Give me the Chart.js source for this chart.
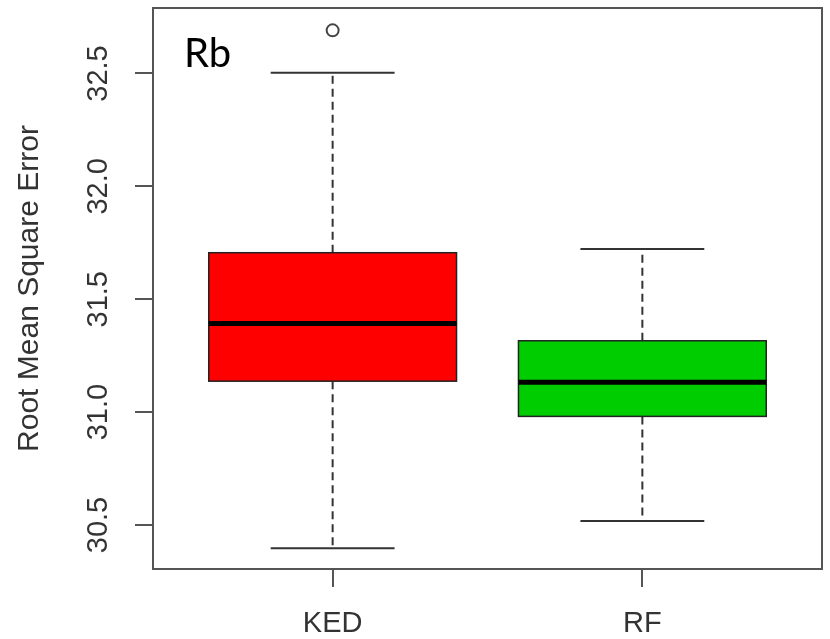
<!DOCTYPE html>
<html>
<head>
<meta charset="utf-8">
<script src="https://cdn.jsdelivr.net/npm/chart.js@4/dist/chart.umd.min.js"></script>
<style>
  html, body { margin: 0; padding: 0; background: #fff; }
</style>
</head>
<body>
<canvas id="rmseChart" width="830" height="639"></canvas>
<script>
// Data
const categories = ["KED", "RF"];
const whiskerLow = [30.397, 30.518];
const lowerQuartile = [31.137, 30.981];
const medians = [31.393, 31.132];
const upperQuartile = [31.706, 31.316];
const whiskerHigh = [32.503, 31.723];
const outliers = [[32.691], []];
const yTicks = [30.5, 31.0, 31.5, 32.0, 32.5];
const panelLabel = "Rb";

const boxColors = ["#ff0000", "#00cd00"];
const textColor = "#333";
const axisFont = "'Liberation Sans', Arial, sans-serif";

// Box, whiskers and median drawn with the chart's scales
const boxplotPlugin = {
  id: "boxplot",
  beforeDatasetsDraw(chart) {
    const { ctx, scales: { x, y } } = chart;
    ctx.save();
    categories.forEach((cat, i) => {
      const pos = i + 1;
      const cx = x.getPixelForValue(pos);
      const left = x.getPixelForValue(pos - 0.4);
      const right = x.getPixelForValue(pos + 0.4);
      const capL = x.getPixelForValue(pos - 0.2);
      const capR = x.getPixelForValue(pos + 0.2);
      const yLow = y.getPixelForValue(whiskerLow[i]);
      const yQ1 = y.getPixelForValue(lowerQuartile[i]);
      const yMed = y.getPixelForValue(medians[i]);
      const yQ3 = y.getPixelForValue(upperQuartile[i]);
      const yHigh = y.getPixelForValue(whiskerHigh[i]);

      // dashed whiskers
      ctx.strokeStyle = "#333";
      ctx.lineWidth = 2;
      ctx.setLineDash([8, 5]);
      ctx.beginPath();
      ctx.moveTo(cx, yQ1); ctx.lineTo(cx, yLow);
      ctx.moveTo(cx, yQ3); ctx.lineTo(cx, yHigh);
      ctx.stroke();

      // caps
      ctx.setLineDash([]);
      ctx.beginPath();
      ctx.moveTo(capL, yLow); ctx.lineTo(capR, yLow);
      ctx.moveTo(capL, yHigh); ctx.lineTo(capR, yHigh);
      ctx.stroke();

      // box
      ctx.fillStyle = boxColors[i];
      ctx.fillRect(left, yQ3, right - left, yQ1 - yQ3);
      ctx.lineWidth = 1.5;
      ctx.strokeStyle = "#222";
      ctx.strokeRect(left, yQ3, right - left, yQ1 - yQ3);

      // median
      ctx.lineWidth = 5;
      ctx.strokeStyle = "#000";
      ctx.beginPath();
      ctx.moveTo(left, yMed); ctx.lineTo(right, yMed);
      ctx.stroke();
    });
    ctx.restore();
  },
  afterDraw(chart) {
    const { ctx, chartArea: a } = chart;
    ctx.save();
    ctx.strokeStyle = "#555";
    ctx.lineWidth = 2;
    ctx.strokeRect(a.left, a.top, a.right - a.left, a.bottom - a.top);
    ctx.fillStyle = "#000";
    ctx.font = "40px Lato, 'Open Sans', sans-serif";
    ctx.textBaseline = "alphabetic";
    ctx.fillText(panelLabel, a.left + 31, a.top + 59);
    ctx.restore();
  }
};

const outlierPoints = [];
outliers.forEach((list, i) => list.forEach(v => outlierPoints.push({ x: i + 1, y: v })));

new Chart(document.getElementById("rmseChart"), {
  type: "scatter",
  data: {
    datasets: [
      {
        label: "outliers",
        data: outlierPoints,
        pointStyle: "circle",
        pointRadius: 6,
        pointBorderWidth: 2,
        pointBorderColor: "#444",
        pointBackgroundColor: "rgba(0,0,0,0)",
      },
    ],
  },
  options: {
    responsive: false,
    animation: false,
    layout: { padding: { top: 6, right: 7, left: 0, bottom: 0 } },
    plugins: { legend: { display: false }, tooltip: { enabled: false } },
    scales: {
      x: {
        type: "linear",
        min: 0.42,
        max: 2.58,
        afterBuildTicks: (s) => { s.ticks = categories.map((c, i) => ({ value: i + 1 })); },
        afterFit: (s) => { s.height = 70; s.paddingLeft = 0; s.paddingRight = 0; },
        ticks: {
          autoSkip: false,
          maxRotation: 0,
          padding: 20,
          color: textColor,
          font: { family: axisFont, size: 29 },
          callback: (v) => categories[v - 1],
        },
        grid: { drawOnChartArea: false, tickLength: 18, color: "#555", lineWidth: 2 },
        border: { display: false },
      },
      y: {
        min: 30.305,
        max: 32.79,
        afterBuildTicks: (s) => { s.ticks = yTicks.map((v) => ({ value: v })); },
        afterFit: (s) => { s.width = 153; s.paddingTop = 0; s.paddingBottom = 0; },
        ticks: {
          minRotation: 90,
          maxRotation: 90,
          crossAlign: "center",
          padding: 8,
          color: textColor,
          font: { family: axisFont, size: 29 },
          callback: (v) => v.toFixed(1),
        },
        title: {
          display: true,
          text: "Root Mean Square Error",
          color: textColor,
          font: { family: axisFont, size: 30 },
          padding: { top: 12 },
        },
        grid: { drawOnChartArea: false, tickLength: 18, color: "#555", lineWidth: 2 },
        border: { display: false },
      },
    },
  },
  plugins: [boxplotPlugin],
});
</script>
</body>
</html>
